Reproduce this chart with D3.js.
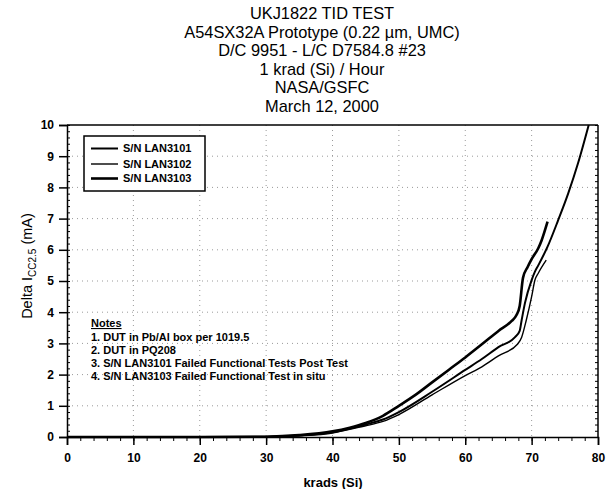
<!DOCTYPE html>
<html>
<head>
<meta charset="utf-8">
<script src="https://cdn.jsdelivr.net/npm/d3@7"></script>
<style>
  html, body { margin: 0; padding: 0; background: #fff; }
  svg { display: block; }
  text { font-family: "Liberation Sans", Arial, sans-serif; fill: #000; }
</style>
</head>
<body>
<svg id="chart" width="609" height="489"></svg>
<script>
// ---- Data ----
const titleLines = [
  "UKJ1822 TID TEST",
  "A54SX32A Prototype (0.22 \u00b5m, UMC)",
  "D/C 9951 - L/C D7584.8 #23",
  "1 krad (Si) / Hour",
  "NASA/GSFC",
  "March 12, 2000"
];
const seriesNames = ["S/N LAN3101", "S/N LAN3102", "S/N LAN3103"];
const xTickValues = [0, 10, 20, 30, 40, 50, 60, 70, 80];
const yTickValues = [0, 1, 2, 3, 4, 5, 6, 7, 8, 9, 10];
const notes = [
  "1. DUT in Pb/Al box per 1019.5",
  "2. DUT in PQ208",
  "3. S/N LAN3101 Failed Functional Tests Post Test",
  "4. S/N LAN3103 Failed Functional Test in situ"
];

// S/N LAN3101 (continues to 10 mA)
const dose3101 = [0, 20, 30, 35, 40, 42.6, 45, 47.6, 50, 55, 60, 62.5, 65, 67.5, 68.2, 68.5, 69, 70, 70.5, 71, 72.4, 74, 75.5, 77, 78.6];
const icc3101  = [0, 0, 0.01, 0.05, 0.15, 0.27, 0.4, 0.56, 0.8, 1.45, 2.15, 2.5, 2.88, 3.2, 3.4, 3.75, 4.3, 5.03, 5.3, 5.5, 6.1, 6.95, 7.8, 8.78, 10];
// S/N LAN3102
const dose3102 = [0, 20, 30, 35, 40, 42.6, 45, 47.6, 50, 55, 60, 62.5, 65, 67.9, 68.5, 69.2, 70, 70.5, 71, 72.2];
const icc3102  = [0, 0, 0.01, 0.04, 0.13, 0.25, 0.36, 0.5, 0.72, 1.35, 1.97, 2.25, 2.6, 2.98, 3.2, 3.75, 4.5, 5.03, 5.25, 5.67];
// S/N LAN3103 (upper curve)
const dose3103 = [0, 20, 30, 35, 40, 42.6, 45, 47.6, 50, 52.5, 55, 57.5, 60, 62.5, 65, 67, 67.7, 68.2, 68.7, 69.4, 70, 71, 71.5, 72.4];
const icc3103  = [0, 0, 0.01, 0.06, 0.18, 0.3, 0.45, 0.68, 1.0, 1.35, 1.75, 2.15, 2.55, 2.97, 3.4, 3.72, 3.9, 4.2, 5.1, 5.45, 5.7, 6.05, 6.3, 6.9];

const seriesWidths = [2.0, 1.4, 2.6];

// ---- Layout ----
const svg = d3.select("#chart");
const L = 67, R = 598, T = 125, B = 437;
const x = d3.scaleLinear().domain([0, 80]).range([L, R]);
const y = d3.scaleLinear().domain([0, 10]).range([B, T]);

// Title
svg.append("g").selectAll("text").data(titleLines).join("text")
  .attr("x", 322).attr("y", (d, i) => 19 + i * 18.5)
  .attr("text-anchor", "middle")
  .style("font-size", "16.4px")
  .text(d => d);

// Grid (dotted)
const grid = svg.append("g").attr("stroke", "#9a9a9a").attr("stroke-width", 1).attr("stroke-dasharray", "1,4");
grid.selectAll("line.v").data(xTickValues.slice(1, -1)).join("line")
  .attr("x1", d => x(d)).attr("x2", d => x(d)).attr("y1", T).attr("y2", B);
grid.selectAll("line.h").data(yTickValues.slice(1, -1)).join("line")
  .attr("x1", L).attr("x2", R).attr("y1", d => y(d)).attr("y2", d => y(d));

// Frame: top and right
svg.append("line").attr("x1", L).attr("x2", R).attr("y1", T).attr("y2", T).attr("stroke", "#000").attr("stroke-width", 1.3);
svg.append("line").attr("x1", R).attr("x2", R).attr("y1", T).attr("y2", B).attr("stroke", "#000").attr("stroke-width", 1.5);

// Y axis (left)
const yMinor = d3.range(0, 10.001, 0.2);
const yAxis = svg.append("g").attr("transform", `translate(${L},0)`)
  .call(d3.axisLeft(y).tickValues(yTickValues).tickSize(8).tickPadding(5).tickFormat(d3.format("d")));
yAxis.selectAll("text").style("font-size", "12px").style("font-weight", "bold");
yAxis.selectAll("path,line").attr("stroke", "#000").attr("stroke-width", 1.5);
svg.append("g").attr("transform", `translate(${L},0)`)
  .call(d3.axisRight(y).tickValues(yMinor).tickSize(3).tickFormat(""))
  .call(g => g.select("path").remove())
  .selectAll("line").attr("stroke", "#000");
// right side minor ticks
svg.append("g").attr("transform", `translate(${R},0)`)
  .call(d3.axisLeft(y).tickValues(yMinor).tickSize(3).tickFormat(""))
  .call(g => g.select("path").remove())
  .selectAll("line").attr("stroke", "#000");

// X axis
const xMinor = d3.range(0, 80.001, 2);
svg.append("g").attr("transform", `translate(0,${B})`)
  .call(d3.axisBottom(x).tickValues(xMinor).tickSize(4).tickFormat(""))
  .call(g => g.select("path").remove())
  .selectAll("line").attr("stroke", "#000");
const xAxis = svg.append("g").attr("transform", `translate(0,${B})`)
  .call(d3.axisBottom(x).tickValues(xTickValues).tickSize(8).tickPadding(8).tickFormat(d3.format("d")));
xAxis.selectAll("text").style("font-size", "12px").style("font-weight", "bold");
xAxis.selectAll("path,line").attr("stroke", "#000").attr("stroke-width", 1.5);

// Axis titles
svg.append("text").attr("x", 333).attr("y", 487).attr("text-anchor", "middle")
  .style("font-size", "13px").style("font-weight", "bold").text("krads (Si)");
const yl = svg.append("text").attr("transform", "translate(32,266) rotate(-90)")
  .attr("text-anchor", "middle").style("font-size", "14.5px");
yl.append("tspan").text("Delta I");
yl.append("tspan").attr("dy", 4).style("font-size", "10px").text("CC2.5");
yl.append("tspan").attr("dy", -4).text(" (mA)");

// Curves
const seriesData = [
  d3.zip(dose3101, icc3101),
  d3.zip(dose3102, icc3102),
  d3.zip(dose3103, icc3103)
];
const line = d3.line().x(d => x(d[0])).y(d => y(d[1])).curve(d3.curveMonotoneX);
svg.append("g").selectAll("path").data(seriesData).join("path")
  .attr("d", line).attr("fill", "none").attr("stroke", "#000")
  .attr("stroke-width", (d, i) => seriesWidths[i]).attr("stroke-linejoin", "round");

// Legend
const lg = svg.append("g");
lg.append("rect").attr("x", 84).attr("y", 136).attr("width", 121).attr("height", 55)
  .attr("fill", "#fff").attr("stroke", "#000").attr("stroke-width", 1.5);
const rowsY = [148.5, 164, 178.5];
seriesNames.forEach((n, i) => {
  lg.append("line").attr("x1", 91).attr("x2", 118).attr("y1", rowsY[i]).attr("y2", rowsY[i])
    .attr("stroke", "#000").attr("stroke-width", seriesWidths[i]);
  lg.append("text").attr("x", 123).attr("y", rowsY[i]).attr("dy", "0.35em")
    .style("font-size", "11px").style("font-weight", "bold").text(n);
});

// Notes
svg.append("text").attr("x", 91).attr("y", 327)
  .style("font-size", "11px").style("font-weight", "bold")
  .style("text-decoration", "underline").text("Notes");
svg.append("g").selectAll("text").data(notes).join("text")
  .attr("x", 91).attr("y", (d, i) => 340.5 + i * 13.2)
  .style("font-size", "11px").style("font-weight", "bold").text(d => d);
</script>
</body>
</html>
